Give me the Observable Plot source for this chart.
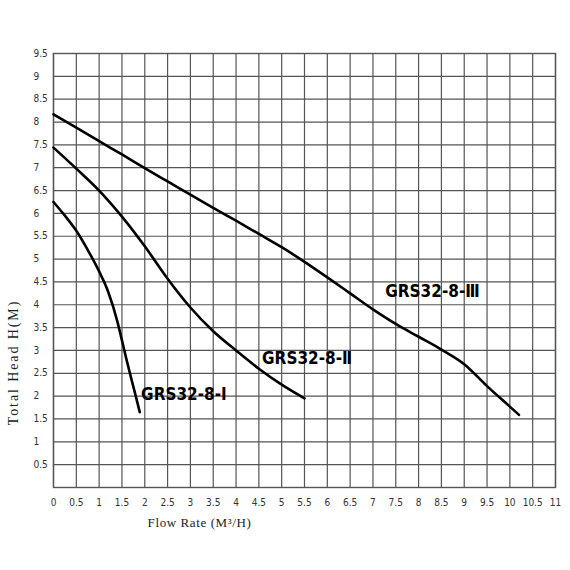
<!DOCTYPE html>
<html>
<head>
<meta charset="utf-8">
<script src="https://cdn.jsdelivr.net/npm/d3@7"></script>
<script src="https://cdn.jsdelivr.net/npm/@observablehq/plot@0.6"></script>
<style>
  body { margin: 0; background: #fff; }
  #chart svg { display: block; }
</style>
</head>
<body>
<div id="chart"></div>
<script>
// pump curves
const flowI = [0, 0.25, 0.5, 0.75, 1, 1.2, 1.4, 1.5, 1.6, 1.7, 1.8, 1.89];
const headI = [6.25, 5.95, 5.62, 5.2, 4.73, 4.28, 3.63, 3.22, 2.8, 2.4, 2.01, 1.65];

const flowII = [0, 0.5, 1, 1.5, 2, 2.5, 3, 3.5, 4, 4.5, 5, 5.5];
const headII = [7.44, 6.98, 6.5, 5.93, 5.28, 4.57, 3.94, 3.42, 3.0, 2.6, 2.25, 1.95];

const flowIII = [0, 0.5, 1, 1.5, 2, 2.5, 3, 3.5, 4, 4.5, 5, 5.5, 6, 6.5, 7, 7.5, 8, 8.5, 9, 9.5, 10, 10.2];
const headIII = [8.17, 7.88, 7.58, 7.29, 6.99, 6.7, 6.41, 6.12, 5.84, 5.55, 5.26, 4.94, 4.6, 4.25, 3.9, 3.58, 3.3, 3.02, 2.7, 2.22, 1.77, 1.59];

const curveNames = ["GRS32-8-Ⅰ", "GRS32-8-Ⅱ", "GRS32-8-Ⅲ"];
const labelFlow = [1.92, 4.57, 7.27];
const labelHead = [2.03, 2.82, 4.28];

const xTicks = [0, 0.5, 1, 1.5, 2, 2.5, 3, 3.5, 4, 4.5, 5, 5.5, 6, 6.5, 7, 7.5, 8, 8.5, 9, 9.5, 10, 10.5, 11];
const yTicks = [0.5, 1, 1.5, 2, 2.5, 3, 3.5, 4, 4.5, 5, 5.5, 6, 6.5, 7, 7.5, 8, 8.5, 9, 9.5];

const yTitle = "Total Head H(M)";
const xTitle = "Flow Rate (M³/H)";

const toRows = (xs, ys, name) => xs.map((x, i) => ({flow: x, head: ys[i], name}));
const curves = [
  ...toRows(flowI, headI, curveNames[0]),
  ...toRows(flowII, headII, curveNames[1]),
  ...toRows(flowIII, headIII, curveNames[2])
];
const labels = curveNames.map((name, i) => ({name, flow: labelFlow[i], head: labelHead[i]}));

const tickFont = "'Liberation Sans Narrow', 'DejaVu Sans Condensed', sans-serif";
const grid = "#555";

let chart = Plot.plot({
  width: 570,
  height: 570,
  marginLeft: 53,
  marginRight: 15,
  marginTop: 53,
  marginBottom: 83,
  x: {domain: [0, 11]},
  y: {domain: [0, 9.5]},
  style: {background: "#fff"},
  marks: [
    Plot.gridX(xTicks, {stroke: grid, strokeOpacity: 1, strokeWidth: 1.2}),
    Plot.gridY(yTicks, {stroke: grid, strokeOpacity: 1, strokeWidth: 1.2}),
    Plot.frame({stroke: grid, strokeWidth: 1.4}),
    Plot.axisX({ticks: xTicks, tickSize: 0, tickPadding: 11, tickFormat: d => String(d), label: null,
      fontSize: 10, fontFamily: tickFont, fill: "#333"}),
    Plot.axisY({ticks: yTicks, tickSize: 0, tickPadding: 3, tickFormat: d => String(d), label: null,
      textAnchor: "start", dx: -17, fontSize: 10, fontFamily: tickFont, fill: "#333"}),
    Plot.line(curves, {x: "flow", y: "head", z: "name", curve: "monotone-x", stroke: "#000", strokeWidth: 2.6}),
    Plot.text(labels, {x: "flow", y: "head", text: "name", textAnchor: "start", fontSize: 17, fontWeight: "bold",
      fontFamily: "'Liberation Sans Narrow', 'DejaVu Sans Condensed', sans-serif", fill: "#000"}),
    Plot.text([yTitle], {frameAnchor: "left", textAnchor: "middle", lineAnchor: "middle", rotate: -90,
      dx: -40, dy: 92, fontSize: 14, fontFamily: "'Liberation Serif', serif", fill: "#222"}),
    Plot.text([xTitle], {frameAnchor: "bottom", textAnchor: "middle", lineAnchor: "middle",
      dx: -105, dy: 35, fontSize: 13, fontFamily: "'Liberation Serif', serif", fill: "#222"})
  ]
});

// the titles in the picture are widely spaced
d3.select(chart).selectAll("text")
  .filter(function () { return this.textContent === yTitle; })
  .attr("letter-spacing", "1.9px");
d3.select(chart).selectAll("text")
  .filter(function () { return this.textContent === xTitle; })
  .attr("letter-spacing", "0.6px");

d3.select("#chart").append(() => chart);
</script>
</body>
</html>
